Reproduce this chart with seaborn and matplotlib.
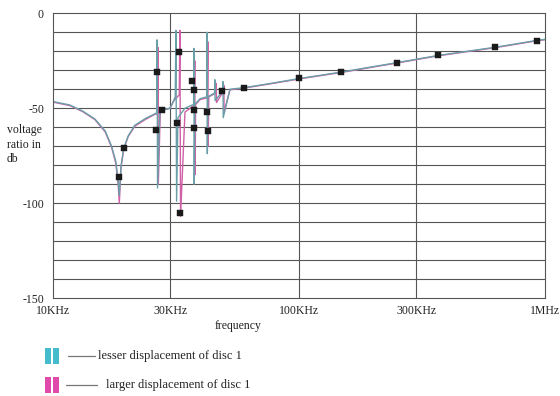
import numpy as np
import pandas as pd
import matplotlib
matplotlib.use("Agg")
import matplotlib.pyplot as plt
from matplotlib.patches import Rectangle
from matplotlib.lines import Line2D
import seaborn as sns

# ---------------- data (frequency in kHz, voltage ratio in dB) ----------------
lesser_freq = [10, 11.7, 13.2, 14.8, 16.3, 17.3, 18.0, 18.4, 18.6, 18.9, 19.4, 20.2,
               21.5, 23.7, 25.9, 26.4,
               26.5, 26.6, 27.2, 29.9, 30.7, 31.4, 31.6, 31.8, 32.2, 34.4, 37.3,
               37.4, 37.5, 37.7, 39.6, 42.2, 42.3, 42.4, 42.6, 45.4, 45.5, 45.6,
               49.0, 49.1, 49.2, 52.4, 59.8, 76.2, 100, 148, 250, 368, 628, 925, 1000]
lesser_db = [-46.5, -48.3, -51.5, -55.7, -62, -70, -78, -88, -96, -80.6, -71, -64.7,
             -59, -55.5, -53, -52.5,
             -14, -92, -51.5, -50, -47, -44, -9, -99, -55, -50, -48,
             -18.5, -90, -48, -45, -44, -10, -74, -44, -42, -35, -46,
             -41, -36, -55, -40, -39.2, -37, -34.4, -31, -26, -22.2, -17.9, -14.3, -13.7]

larger_freq = [10, 11.7, 13.2, 14.8, 16.3, 17.3, 18.0, 18.4, 18.6, 18.9, 19.4, 20.2,
               21.5, 23.7, 25.9, 26.6,
               26.7, 26.8, 27.3, 29.9, 31.0, 32.6, 32.8, 33.0, 34.4, 37.5,
               37.7, 37.8, 38.0, 39.6, 42.4, 42.6, 42.7, 43.0, 46.0, 46.1, 46.2,
               49.4, 49.5, 49.6, 52.4, 59.8, 76.2, 100, 148, 250, 368, 628, 925, 1000]
larger_db = [-46.8, -48.6, -51.8, -56, -62.5, -70.5, -79, -90, -100, -81, -71.5, -65,
             -59.5, -56, -53.3, -52.8,
             -18, -90, -51.5, -50, -46, -43, -9, -107, -52, -48.5,
             -25, -85, -48, -45.5, -44.5, -15, -70, -44, -42, -37, -47,
             -41, -38, -52, -40.3, -39.4, -37.2, -34.6, -31.2, -26.2, -22.4, -18.1, -14.5, -13.9]

marker_freq = [18.5, 19.4, 26.3, 26.5, 27.7, 31.8, 32.4, 32.9, 36.8, 37.5, 37.5,
               37.5, 42.2, 42.7, 48.8, 60, 100, 148, 250, 368, 628, 925]
marker_db = [-86.5, -71, -61.7, -31, -51, -58, -20.4, -105, -35.8, -40.4, -51,
             -60.3, -51.8, -62, -40.8, -39.4, -34.2, -31, -26, -22.2, -17.7, -14.4]

series_names = ["lesser displacement of disc 1", "larger displacement of disc 1"]
series_colors = ["#6a9fa8", "#d060a8"]
legend_patch_colors = ["#45bccc", "#e04aaa"]

x_ticks = [10, 30, 100, 300, 1000]
x_tick_labels = ["10KHz", "30KHz", "100KHz", "300KHz", "1MHz"]
y_ticks = [0, -50, -100, -150]
y_tick_labels = ["0", "-50", "-100", "-150"]

# ---------------- build tables ----------------
df = pd.concat([
    pd.DataFrame({"freq": larger_freq, "db": larger_db, "series": series_names[1]}),
    pd.DataFrame({"freq": lesser_freq, "db": lesser_db, "series": series_names[0]}),
], ignore_index=True)
mk = pd.DataFrame({"freq": marker_freq, "db": marker_db})

sns.set_theme(style="white")
plt.rcParams["font.family"] = ["Liberation Serif", "DejaVu Serif"]

W, H = 560, 396
fig = plt.figure(figsize=(W / 100, H / 100), dpi=100)
L, R, T, B = 53, 545, 13.3, 298
ax = fig.add_axes([L / W, 1 - B / H, (R - L) / W, (B - T) / H])

ax.set_xscale("log")
sns.lineplot(data=df, x="freq", y="db", hue="series",
             sort=False, estimator=None,
             palette={series_names[0]: series_colors[0], series_names[1]: series_colors[1]},
             hue_order=[series_names[1], series_names[0]],
             linewidth=1.0, ax=ax, legend=False)
sns.scatterplot(data=mk, x="freq", y="db", marker="s", color="#1a1a1a", s=14,
                edgecolor="#1a1a1a", linewidth=0.3, ax=ax, zorder=5, legend=False)

ax.set_xlim(10, 1000)
ax.set_ylim(-150, 0)
ax.set_xticks(x_ticks)
ax.set_xticklabels(x_tick_labels)
ax.xaxis.set_minor_locator(matplotlib.ticker.NullLocator())
ax.set_yticks(y_ticks)
ax.set_yticklabels(y_tick_labels)
ax.set_yticks(np.arange(-150, 1, 10), minor=True)

ax.grid(False)
for v in np.arange(-140, 0, 10):
    ax.axhline(v, color="#555555", lw=0.8, zorder=0)
for v in [30, 100, 300]:
    ax.axvline(v, color="#555555", lw=0.8, zorder=0)

for s in ax.spines.values():
    s.set_color("#555555")
    s.set_linewidth(0.8)

ax.tick_params(axis="both", which="major", labelsize=8.5, colors="#222222", length=3, width=0.6)
ax.tick_params(axis="y", which="minor", length=0)
ax.tick_params(axis="x", which="major", length=0, pad=5)
ax.set_xlabel("")
ax.set_ylabel("")

fig.text(238 / W, 1 - 326 / H, "frequency", ha="center", va="center", fontsize=8.5, color="#222222")
fig.text(7 / W, 1 - 124 / H, "voltage\nratio in\ndb", ha="left", va="top", fontsize=8.5,
         linespacing=1.3, color="#222222")

# legend drawn below the chart
rows = [(356, 68, 95, 98), (385, 66, 97, 106)]
for (yc, lx0, lx1, tx), name, pc in zip(rows, series_names, legend_patch_colors):
    for bx in (45, 53):
        fig.add_artist(Rectangle((bx / W, 1 - (yc + 8) / H), 6 / W, 16 / H,
                                 transform=fig.transFigure, color=pc, lw=0))
    fig.add_artist(Line2D([lx0 / W, lx1 / W], [1 - yc / H, 1 - yc / H],
                          transform=fig.transFigure, color="#777777", lw=0.9))
    fig.text(tx / W, 1 - yc / H, name, ha="left", va="center", fontsize=9, color="#222222")

fig.savefig("out.png", dpi=100, facecolor="white")
